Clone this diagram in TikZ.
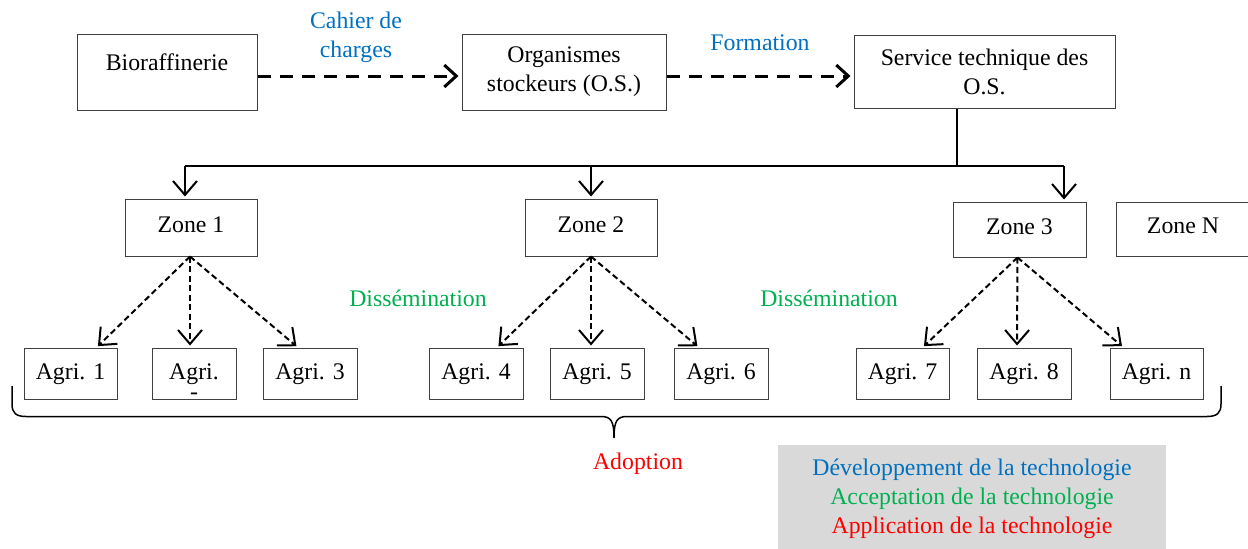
\documentclass[tikz,border=0pt]{standalone}
\usepackage{fontspec}
\setmainfont{Liberation Serif}
\usetikzlibrary{arrows.meta}
\definecolor{cblue}{HTML}{0070C0}
\definecolor{cgreen}{HTML}{00B050}
\definecolor{cred}{HTML}{FF0000}
\definecolor{cgray}{HTML}{D9D9D9}
\definecolor{cbord}{HTML}{404040}
\begin{document}
\begin{tikzpicture}[x=1pt,y=-1pt,
  every node/.style={font=\fontsize{23.8}{29}\selectfont, inner sep=0pt},
  box/.style={draw=cbord, line width=1pt, align=center},
  agri/.style={box, minimum width=94pt, minimum height=51pt, text height=16.5pt, text depth=5.2pt},
  zone/.style={box, minimum width=132pt, minimum height=57pt, text height=16.5pt, text depth=7.5pt},
  barb/.style={-{Straight Barb[length=14pt,width=24pt]}},
  bigdash/.style={-{Straight Barb[length=12pt,width=22pt]}, line width=3pt, dash pattern=on 13pt off 9pt, shorten >=3pt},
  smalldash/.style={barb, line width=2pt, dash pattern=on 6pt off 3.5pt, shorten >=2pt},
  solidline/.style={line width=2pt},
  solidarrow/.style={barb, line width=2pt, shorten >=2pt},
  lab/.style={align=center},
]
\useasboundingbox (0,0) rectangle (1248,549);

% top row
\node[box, minimum width=180pt, minimum height=76pt, text height=15pt, text depth=19pt] (bio) at (167,72) {Bioraffinerie};
\node[box, minimum width=204pt, minimum height=76pt] (os) at (564,72) {Organismes\\stockeurs (O.S.)};
\node[box, minimum width=261pt, minimum height=73pt] (st) at (984.5,71.5) {Service technique des\\O.S.};

\node[lab, text=cblue] (cahier) at (356,37) {Cahier de\\charges};
\node[lab, text=cblue] (formation) at (760,43) {Formation};

\draw[bigdash] ([yshift=-4pt]bio.east) -- ([yshift=-4pt]os.west);
\draw[bigdash] ([yshift=-4pt]os.east) -- ([yshift=-4.5pt]st.west);

% zones
\node[zone] (z1) at (191,227.5) {Zone 1};
\node[zone] (z2) at (591,227.5) {Zone 2};
\node[zone, minimum width=133pt, minimum height=55pt] (z3) at (1019.5,229.5) {Zone 3};
\node[zone, minimum width=134pt, minimum height=54pt] (zn) at (1183,229) {Zone N};

% branching
\coordinate (bt) at (957,166);
\coordinate (bl) at (185,166);
\coordinate (bm) at (591,166);
\coordinate (br) at (1064,166);
\draw[solidline] (st.south -| bt) -- (bt);
\draw[solidline] (bl) -- (br);
\draw[solidarrow] (bl) -- (z1.north -| bl);
\draw[solidarrow] (bm) -- (z2.north -| bm);
\draw[solidarrow] (br) -- (z3.north -| br);

% farmers
\node[agri, minimum width=93pt] (a1) at (70.5,373.5) {Agri. 1};
\node[agri, minimum width=84pt, label={[anchor=base, inner sep=0pt, yshift=0pt]south:-}] (a2) at (194,373.5) {Agri.};
\node[agri] (a3) at (310,373.5) {Agri. 3};
\node[agri] (a4) at (476,373.5) {Agri. 4};
\node[agri] (a5) at (597,373.5) {Agri. 5};
\node[agri] (a6) at (721,373.5) {Agri. 6};
\node[agri, minimum width=93pt] (a7) at (902.5,373.5) {Agri. 7};
\node[agri] (a8) at (1024,373.5) {Agri. 8};
\node[agri, minimum width=93pt] (an) at (1156.5,373.5) {Agri. n};

\draw[smalldash] ([xshift=-1pt]z1.south) -- ([xshift=26pt]a1.north);
\draw[smalldash] ([xshift=-1pt]z1.south) -- ([xshift=-4pt]a2.north);
\draw[smalldash] ([xshift=-1pt]z1.south) -- ([xshift=-12pt]a3.north);
\draw[smalldash] (z2.south) -- ([xshift=21pt]a4.north);
\draw[smalldash] (z2.south) -- ([xshift=-6pt]a5.north);
\draw[smalldash] (z2.south) -- ([xshift=-22pt]a6.north);
\draw[smalldash] ([xshift=-2pt]z3.south) -- ([xshift=20pt]a7.north);
\draw[smalldash] ([xshift=-2pt]z3.south) -- ([xshift=-7pt]a8.north);
\draw[smalldash] ([xshift=-2pt]z3.south) -- ([xshift=-33pt]an.north);

\node[lab, text=cgreen] (diss1) at (418,298) {Dissémination};
\node[lab, text=cgreen] (diss2) at (829,298) {Dissémination};

% brace
\draw[line width=1.5pt] (12,386) -- (12,404) .. controls (12,413) and (16,416.5) .. (26,416.5)
  -- (601,416.5) .. controls (611,416.5) and (614,421) .. (614,438)
  .. controls (614,421) and (617,416.5) .. (627,416.5)
  -- (1207,416.5) .. controls (1217,416.5) and (1221,413) .. (1221,404) -- (1221,386);

\node[lab, text=cred] (adopt) at (638,464) {Adoption};

% legend
\node[lab, fill=cgray, minimum width=388pt, minimum height=104pt, text height=75pt, text depth=3pt] (leg) at (972,497)
  {\textcolor{cblue}{Développement de la technologie}\\
   \textcolor{cgreen}{Acceptation de la technologie}\\
   \textcolor{cred}{Application de la technologie}};
\end{tikzpicture}
\end{document}
